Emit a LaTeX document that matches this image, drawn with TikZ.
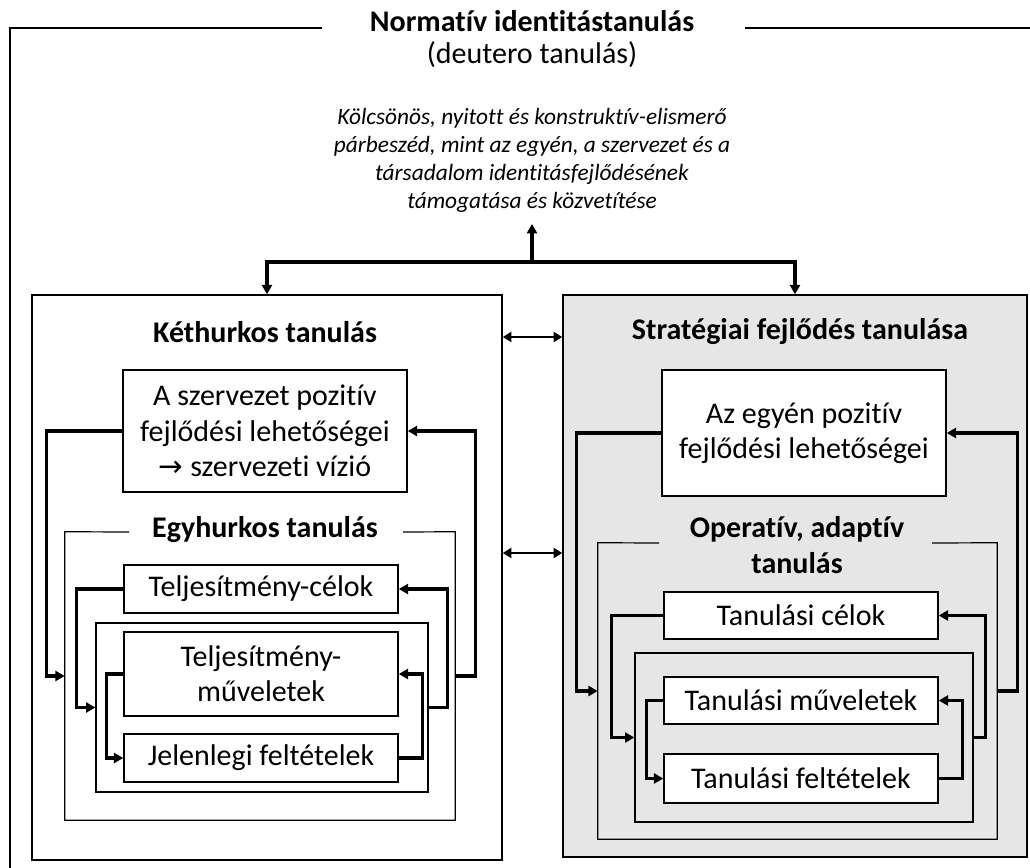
\documentclass[tikz,border=0pt]{standalone}
\usepackage{fontspec}
\setmainfont{Carlito}[Ligatures={NoCommon,NoContextual,NoRequired},Contextuals={NoAlternate}]
\newfontfamily\symfont{DejaVu Sans}
\usetikzlibrary{arrows.meta}
\definecolor{panelgray}{RGB}{230,230,230}
\begin{document}
\begin{tikzpicture}[x=0.75pt,y=-0.75pt,
  box/.style={draw=black, line width=1.1pt, fill=white, inner sep=0pt, align=center,
    font=\fontsize{22.5}{26.5}\selectfont},
  panel/.style={draw=black, line width=1.1pt, inner sep=0pt},
  framebox/.style={draw=none, inner sep=0pt},
  frameline/.style={draw=black, line width=0.9pt},
  hdr/.style={font=\bfseries\fontsize{22.5}{26.5}\selectfont, align=center, inner sep=0pt},
  conn/.style={line width=2.4pt, -{Triangle[length=7pt,width=7.5pt]}},
  biconn/.style={line width=2.1pt, {Triangle[length=6.5pt,width=7.5pt]}-{Triangle[length=6.5pt,width=7.5pt]}}
]
\useasboundingbox (0,0) rectangle (1030,867);

% outer normative frame
\draw[frameline] (322,28) -- (10,28) -- (10,870);
\draw[frameline] (745,28) -- (1035,28);
\node[hdr] (title) at (532,21) {Normatív identitástanulás};
\node[inner sep=0pt, font=\fontsize{22.5}{26.5}\selectfont] (sub) at (532,55) {(deutero tanulás)};
\node[inner sep=0pt, align=center, font=\itshape\fontsize{17.5}{21}\selectfont] (dialog) at (532,160)
  {Kölcsönös, nyitott és konstruktív-elismerő\\párbeszéd, mint az egyén, a szervezet és a\\társadalom identitásfejlődésének\\támogatása és közvetítése};
\coordinate (tip) at (532,224);
\coordinate (junc) at (532,262);

% panels
\node[panel, fill=white, minimum width=352.5pt, minimum height=423.75pt] (panelL) at (267,577.5) {};
\node[panel, fill=panelgray, minimum width=348pt, minimum height=421.5pt] (panelR) at (795,576) {};

% left panel
\node[hdr] (kethT) at (265,332) {Kéthurkos tanulás};
\node[box, minimum width=213pt, minimum height=91.5pt] (boxA) at (265,431)
  {A szervezet pozitív\\fejlődési lehetőségei\\{\symfont\fontsize{22}{26.5}\selectfont →} szervezeti vízió};
\node[framebox, minimum width=292.5pt, minimum height=216pt] (egyL) at (260,676) {};
\draw[frameline] (129,532) -- (egyL.north west) -- (egyL.south west) -- (egyL.south east) -- (egyL.north east) -- (403,532);
\node[hdr] (egyT) at (265,530) {Egyhurkos tanulás};
\node[box, minimum width=205.5pt, minimum height=36pt] (celokL) at (261,589) {Teljesítmény-célok};
\node[draw=black, line width=0.9pt, inner sep=0pt, minimum width=249pt, minimum height=126.75pt] (innerL) at (262,707.5) {};
\node[box, minimum width=205.5pt, minimum height=63pt] (muvL) at (261,674) {Teljesítmény-\\műveletek};
\node[box, minimum width=205.5pt, minimum height=36pt] (jelL) at (261,758) {Jelenlegi feltételek};

% right panel
\node[hdr] (strT) at (800,332) {Stratégiai fejlődés tanulása};
\node[box, minimum width=213pt, minimum height=94.5pt] (boxB) at (804,433)
  {Az egyén pozitív\\fejlődési lehetőségei};
\node[framebox, minimum width=299.25pt, minimum height=222pt] (opR) at (797.5,691) {};
\draw[frameline] (659,543) -- (opR.north west) -- (opR.south west) -- (opR.south east) -- (opR.north east) -- (932,543);
\node[hdr] (opT) at (797,545) {Operatív, adaptív\\tanulás};
\node[box, minimum width=205.5pt, minimum height=35.25pt] (celokR) at (801,615.5) {Tanulási célok};
\node[draw=black, line width=0.9pt, inner sep=0pt, minimum width=253.5pt, minimum height=126.75pt] (innerR) at (804,737.5) {};
\node[box, minimum width=205.5pt, minimum height=35.25pt] (muvR) at (801,700.5) {Tanulási műveletek};
\node[box, minimum width=205.5pt, minimum height=36.75pt] (feltR) at (801,778.5) {Tanulási feltételek};

% top connectors
\draw[conn] (junc) -- (tip);
\draw[conn] (junc) -| (panelL.north);
\draw[conn] (junc) -| (panelR.north);

% double arrows between panels
\coordinate (h1) at (0,337);
\coordinate (h2) at (0,553);
\draw[biconn] (panelL.east |- h1) -- (panelR.west |- h1);
\draw[biconn] (panelL.east |- h2) -- (panelR.west |- h2);

% left loops
\draw[conn] (boxA.west) -- ++(-76,0) |- (egyL.west);
\draw[conn] (egyL.east) -- ++(20,0) |- (boxA.east);
\draw[conn] (celokL.west) -- ++(-47,0) |- (innerL.west);
\draw[conn] (innerL.east) -- ++(19,0) |- (celokL.east);
\draw[conn] (muvL.west) -- ++(-17,0) |- (jelL.west);
\draw[conn] (jelL.east) -- ++(24,0) |- (muvL.east);

% right loops
\draw[conn] (boxB.west) -- ++(-85,0) |- (opR.west);
\draw[conn] (opR.east) -- ++(20,0) |- (boxB.east);
\draw[conn] (celokR.west) -- ++(-52,0) |- (innerR.west);
\draw[conn] (innerR.east) -- ++(12,0) |- (celokR.east);
\draw[conn] (muvR.west) -- ++(-17,0) |- (feltR.west);
\draw[conn] (feltR.east) -- ++(24,0) |- (muvR.east);
\end{tikzpicture}
\end{document}
